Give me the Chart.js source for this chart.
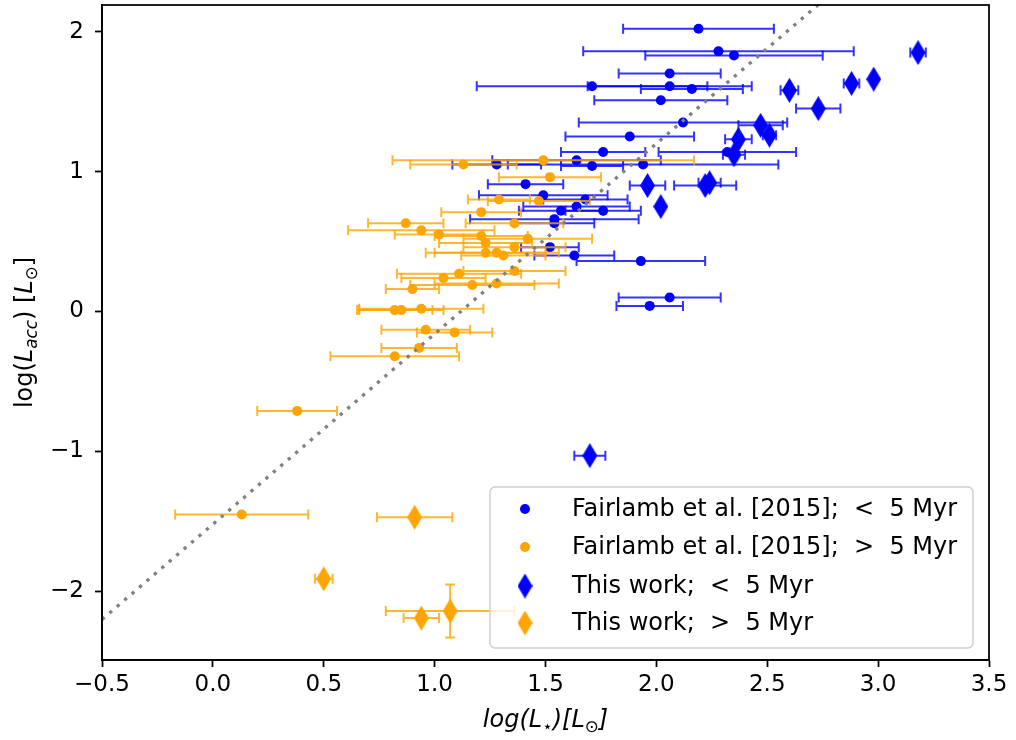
<!DOCTYPE html>
<html>
<head>
<meta charset="utf-8">
<script src="https://cdn.jsdelivr.net/npm/chart.js@4.4.0/dist/chart.umd.min.js"></script>
<style>
  html, body { margin: 0; padding: 0; background: #fff; }
</style>
</head>
<body>
<canvas id="lumChart" width="1016" height="740"></canvas>
<script>
    const FONT = "'DejaVu Sans', sans-serif";
    const BLUE = '#0000ff';
    const ORANGE = '#ffa500';

    // Fairlamb et al. 2015, younger than 5 Myr
    const fairYoungX = [2.19, 2.28, 2.35, 2.06, 1.71, 2.06, 2.16, 2.02, 2.12, 1.88, 1.76, 2.32, 1.64, 1.28, 1.71,
        1.94, 1.41, 1.49, 1.68, 1.64, 1.57, 1.76, 1.54, 1.54, 1.52, 1.63, 1.93, 2.06, 1.97];
    const fairYoungY = [2.02, 1.86, 1.83, 1.70, 1.61, 1.61, 1.59, 1.51, 1.35, 1.25, 1.14, 1.14, 1.08, 1.05, 1.04,
        1.05, 0.91, 0.83, 0.80, 0.75, 0.72, 0.72, 0.66, 0.63, 0.46, 0.40, 0.36, 0.10, 0.04];
    const fairYoungXErr = [0.34, 0.61, 0.40, 0.23, 0.52, 0.37, 0.23, 0.30, 0.47, 0.29, 0.19, 0.31, 0.38, 0.20, 0.14,
        0.61, 0.17, 0.29, 0.19, 0.24, 0.19, 0.17, 0.38, 0.18, 0.13, 0.18, 0.29, 0.23, 0.15];

    // Fairlamb et al. 2015, older than 5 Myr
    const fairOldX = [1.49, 1.13, 1.52, 1.29, 1.47, 1.21, 1.36, 0.87, 0.94, 1.02, 1.21, 1.23, 1.42, 1.36, 1.23,
        1.28, 1.31, 1.11, 1.36, 1.04, 1.28, 1.17, 0.90, 0.82, 0.85, 0.94, 0.96, 1.09, 0.93, 0.82, 0.38, 0.13];
    const fairOldY = [1.08, 1.05, 0.96, 0.80, 0.79, 0.71, 0.63, 0.63, 0.58, 0.55, 0.54, 0.49, 0.52, 0.46, 0.42,
        0.42, 0.40, 0.27, 0.29, 0.24, 0.20, 0.19, 0.16, 0.01, 0.01, 0.02, -0.13, -0.15, -0.26, -0.32, -0.71, -1.45];
    const fairOldXErr = [0.68, 0.24, 0.23, 0.14, 0.23, 0.18, 0.22, 0.17, 0.33, 0.20, 0.21, 0.21, 0.29, 0.23, 0.27,
        0.28, 0.19, 0.28, 0.23, 0.19, 0.28, 0.28, 0.12, 0.17, 0.19, 0.28, 0.20, 0.17, 0.17, 0.29, 0.18, 0.30];

    // this work, younger than 5 Myr
    const ourYoungX = [3.18, 2.98, 2.88, 2.60, 2.73, 2.47, 2.51, 2.37, 2.35, 1.96, 2.22, 2.24, 2.02, 1.70];
    const ourYoungY = [1.85, 1.66, 1.63, 1.58, 1.45, 1.33, 1.26, 1.23, 1.12, 0.90, 0.90, 0.92, 0.75, -1.03];
    const ourYoungXErr = [0.035, 0, 0.035, 0.04, 0.10, 0.10, 0.03, 0.06, 0.05, 0.08, 0.14, 0.05, 0, 0.07];

    // this work, older than 5 Myr
    const ourOldX = [0.91, 0.50, 0.94, 1.07];
    const ourOldY = [-1.47, -1.91, -2.19, -2.14];
    const ourOldXErr = [0.17, 0.04, 0.08, 0.29];
    const ourOldYErr = [0, 0, 0, 0.19];

    // dotted relation
    const fitX = [-0.5, 2.75];
    const fitY = [-2.20, 2.22];

    const xTicks = [-0.5, 0, 0.5, 1, 1.5, 2, 2.5, 3, 3.5];
    const yTicks = [-2, -1, 0, 1, 2];

    const seriesLabels = [
        'Fairlamb et al. [2015];  <  5 Myr',
        'Fairlamb et al. [2015];  >  5 Myr',
        'This work;  <  5 Myr',
        'This work;  >  5 Myr'
    ];

    function toPoints(xs, ys, xErr, yErr) {
        return xs.map(function (x, i) {
            return {x: x, y: ys[i], xErr: xErr ? xErr[i] : 0, yErr: yErr ? yErr[i] : 0};
        });
    }

    // thin diamond marker
    function diamond(color) {
        let c = document.createElement('canvas');
        c.width = 15;
        c.height = 25;
        let g = c.getContext('2d');
        g.fillStyle = color;
        g.beginPath();
        g.moveTo(7.5, 0);
        g.lineTo(15, 12.5);
        g.lineTo(7.5, 25);
        g.lineTo(0, 12.5);
        g.closePath();
        g.fill();
        return c;
    }

    const blueDiamond = diamond(BLUE);
    const orangeDiamond = diamond(ORANGE);

    function minus(v) {
        return v < 0 ? '\u2212' + Math.abs(v) : String(v);
    }

    // error bars go under the markers of their own dataset
    const errorBars = {
        id: 'errorBars',
        beforeDatasetDraw(chart, args) {
            let ds = chart.data.datasets[args.index];
            if (!ds.errColor) return;
            let xs = chart.scales.x, ys = chart.scales.y;
            let ctx = chart.ctx, area = chart.chartArea;
            ctx.save();
            ctx.beginPath();
            ctx.rect(area.left, area.top, area.right - area.left, area.bottom - area.top);
            ctx.clip();
            ctx.strokeStyle = ds.errColor;
            ctx.lineWidth = 2;
            ds.data.forEach(function (p) {
                let cx = xs.getPixelForValue(p.x), cy = ys.getPixelForValue(p.y);
                ctx.beginPath();
                if (p.xErr) {
                    let l = xs.getPixelForValue(p.x - p.xErr), r = xs.getPixelForValue(p.x + p.xErr);
                    ctx.moveTo(l, cy); ctx.lineTo(r, cy);
                    ctx.moveTo(l, cy - 5); ctx.lineTo(l, cy + 5);
                    ctx.moveTo(r, cy - 5); ctx.lineTo(r, cy + 5);
                }
                if (p.yErr) {
                    let t = ys.getPixelForValue(p.y + p.yErr), b = ys.getPixelForValue(p.y - p.yErr);
                    ctx.moveTo(cx, t); ctx.lineTo(cx, b);
                    ctx.moveTo(cx - 5, t); ctx.lineTo(cx + 5, t);
                    ctx.moveTo(cx - 5, b); ctx.lineTo(cx + 5, b);
                }
                ctx.stroke();
            });
            ctx.restore();
        }
    };

    // text made of upright / italic / subscript pieces
    function richWidth(ctx, parts, size) {
        let w = 0;
        parts.forEach(function (p) {
            ctx.font = (p.it ? 'italic ' : '') + (p.sub ? size * 0.7 : size) + 'px ' + FONT;
            w += ctx.measureText(p.t).width;
        });
        return w;
    }

    function drawRich(ctx, parts, size, x, y) {
        let cx = x - richWidth(ctx, parts, size) / 2;
        ctx.textAlign = 'left';
        ctx.textBaseline = 'alphabetic';
        parts.forEach(function (p) {
            ctx.font = (p.it ? 'italic ' : '') + (p.sub ? size * 0.7 : size) + 'px ' + FONT;
            ctx.fillText(p.t, cx, p.sub ? y + size * 0.22 : y);
            cx += ctx.measureText(p.t).width;
        });
    }

    const xTitle = [
        {t: 'log(', it: 1}, {t: 'L', it: 1}, {t: '\u22c6', sub: 1}, {t: ')[', it: 1},
        {t: 'L', it: 1}, {t: '\u2299', sub: 1}, {t: ']', it: 1}
    ];
    const yTitle = [
        {t: 'log('}, {t: 'L', it: 1}, {t: 'acc', it: 1, sub: 1}, {t: ') ['},
        {t: 'L', it: 1}, {t: '\u2299', sub: 1}, {t: ']'}
    ];

    const decorations = {
        id: 'decorations',
        afterDraw(chart) {
            let ctx = chart.ctx, a = chart.chartArea;
            ctx.save();

            // frame
            ctx.strokeStyle = '#000';
            ctx.lineWidth = 1.75;
            ctx.strokeRect(a.left, a.top, a.right - a.left, a.bottom - a.top);

            // axis titles
            ctx.fillStyle = '#000';
            drawRich(ctx, xTitle, 24, (a.left + a.right) / 2, 727);
            ctx.save();
            ctx.translate(32, (a.top + a.bottom) / 2);
            ctx.rotate(-Math.PI / 2);
            drawRich(ctx, yTitle, 24, 0, 0);
            ctx.restore();

            // legend box
            let bx = 490, by = 487, bw = 483, bh = 161, rad = 5;
            ctx.beginPath();
            ctx.roundRect(bx, by, bw, bh, rad);
            ctx.fillStyle = 'rgba(255,255,255,0.8)';
            ctx.fill();
            ctx.strokeStyle = '#d0d0d0';
            ctx.lineWidth = 1.5;
            ctx.stroke();

            let rows = [509, 547, 586, 623];
            let mx = 525;
            ctx.font = '24px ' + FONT;
            ctx.textAlign = 'left';
            ctx.textBaseline = 'middle';
            seriesLabels.forEach(function (label, i) {
                let cy = rows[i];
                if (i < 2) {
                    ctx.beginPath();
                    ctx.arc(mx, cy, 5, 0, Math.PI * 2);
                    ctx.fillStyle = i === 0 ? BLUE : ORANGE;
                    ctx.fill();
                } else {
                    let img = i === 2 ? blueDiamond : orangeDiamond;
                    ctx.drawImage(img, mx - 7.5, cy - 12.5);
                }
                ctx.fillStyle = '#000';
                ctx.fillText(label, 572, cy + 1);
            });
            ctx.restore();
        }
    };

    const tickFont = {family: FONT, size: 23};

    new Chart(document.getElementById('lumChart'), {
        type: 'scatter',
        data: {
            datasets: [
                {
                    type: 'line',
                    data: toPoints(fitX, fitY),
                    borderColor: '#808080',
                    borderWidth: 3.3,
                    borderDash: [3.3, 6.5],
                    pointRadius: 0,
                    fill: false,
                    order: 0
                },
                {
                    label: seriesLabels[3],
                    data: toPoints(ourOldX, ourOldY, ourOldXErr, ourOldYErr),
                    pointStyle: orangeDiamond,
                    errColor: 'rgba(255,165,0,0.8)',
                    order: 1
                },
                {
                    label: seriesLabels[2],
                    data: toPoints(ourYoungX, ourYoungY, ourYoungXErr),
                    pointStyle: blueDiamond,
                    errColor: 'rgba(0,0,255,0.8)',
                    order: 2
                },
                {
                    label: seriesLabels[1],
                    data: toPoints(fairOldX, fairOldY, fairOldXErr),
                    pointStyle: 'circle',
                    pointRadius: 5,
                    backgroundColor: ORANGE,
                    borderWidth: 0,
                    errColor: 'rgba(255,165,0,0.8)',
                    order: 3
                },
                {
                    label: seriesLabels[0],
                    data: toPoints(fairYoungX, fairYoungY, fairYoungXErr),
                    pointStyle: 'circle',
                    pointRadius: 5,
                    backgroundColor: BLUE,
                    borderWidth: 0,
                    errColor: 'rgba(0,0,255,0.8)',
                    order: 4
                }
            ]
        },
        options: {
            responsive: false,
            animation: false,
            events: [],
            devicePixelRatio: 1,
            layout: {padding: {top: 3, right: 27, left: 0, bottom: 0}},
            plugins: {
                legend: {display: false},
                tooltip: {enabled: false}
            },
            scales: {
                x: {
                    type: 'linear',
                    min: -0.5,
                    max: 3.5,
                    afterBuildTicks: function (s) {
                        s.ticks = xTicks.map(function (v) { return {value: v}; });
                    },
                    afterFit: function (s) {
                        s.height = 80;
                        s.paddingLeft = 0;
                        s.paddingRight = 0;
                    },
                    grid: {drawOnChartArea: false, drawTicks: true, tickLength: 7, tickColor: '#000', tickWidth: 1.75},
                    border: {display: true, color: '#000', width: 1.75},
                    ticks: {
                        font: tickFont,
                        color: '#000',
                        padding: 4,
                        maxRotation: 0,
                        callback: function (v) {
                            return (v < 0 ? '\u2212' : '') + Math.abs(v).toFixed(1);
                        }
                    }
                },
                y: {
                    type: 'linear',
                    min: -2.49,
                    max: 2.19,
                    afterBuildTicks: function (s) {
                        s.ticks = yTicks.map(function (v) { return {value: v}; });
                    },
                    afterFit: function (s) {
                        s.width = 102;
                        s.paddingTop = 0;
                        s.paddingBottom = 0;
                    },
                    grid: {drawOnChartArea: false, drawTicks: true, tickLength: 7, tickColor: '#000', tickWidth: 1.75},
                    border: {display: true, color: '#000', width: 1.75},
                    ticks: {
                        font: tickFont,
                        color: '#000',
                        padding: 11,
                        callback: function (v) {
                            return minus(v);
                        }
                    }
                }
            }
        },
        plugins: [errorBars, decorations]
    });
</script>
</body>
</html>
